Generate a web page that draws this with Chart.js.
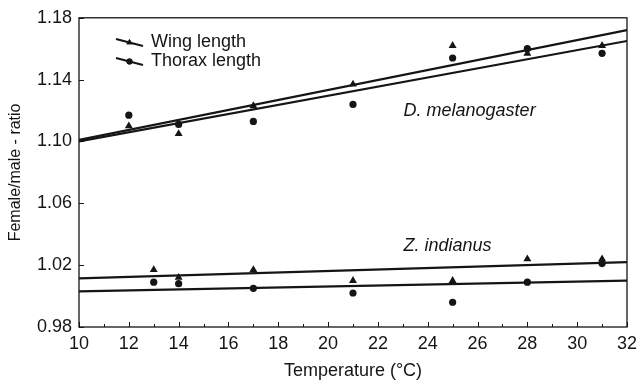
<!DOCTYPE html>
<html>
<head>
<meta charset="utf-8">
<script src="https://cdn.jsdelivr.net/npm/chart.js@4"></script>
<style>
  html, body { margin: 0; padding: 0; background: #fff; }
  #wrap { width: 643px; height: 385px; }
</style>
</head>
<body>
<div id="wrap"><canvas id="ratioChart" width="643" height="385"></canvas></div>
<script>
// temperatures (°C)
const dmTemps = [12, 14, 17, 21, 25, 28, 31];
const ziTemps = [13, 14, 17, 21, 25, 28, 31];

// female/male ratios
const dmWing = [1.110, 1.105, 1.123, 1.137, 1.162, 1.157, 1.162];
const dmThorax = [1.117, 1.111, 1.113, 1.124, 1.154, 1.160, 1.157];
const ziWing = [1.017, 1.012, 1.017, 1.010, 1.010, 1.024, 1.024];
const ziThorax = [1.009, 1.008, 1.005, 1.002, 0.996, 1.009, 1.021];

// fitted lines, end points
const fitTemps = [10, 32];
const dmWingFit = [1.101, 1.172];
const dmThoraxFit = [1.100, 1.165];
const ziWingFit = [1.0115, 1.022];
const ziThoraxFit = [1.003, 1.010];

const xTicks = [10, 12, 14, 16, 18, 20, 22, 24, 26, 28, 30, 32];
const yTicks = [0.98, 1.02, 1.06, 1.10, 1.14, 1.18];

const INK = '#151515';
const FONT = '"Liberation Sans", Arial, Helvetica, sans-serif';

function pts(xs, ys) {
    return xs.map((x, i) => ({ x: x, y: ys[i] }));
}

function markerSet(xs, ys, style) {
    return {
        data: pts(xs, ys),
        showLine: false,
        pointStyle: style,
        pointRadius: style === 'triangle' ? 4.6 : 3.6,
        backgroundColor: INK,
        borderColor: INK,
        borderWidth: 0
    };
}

function fitSet(ys) {
    return {
        data: pts(fitTemps, ys),
        showLine: true,
        pointRadius: 0,
        borderColor: INK,
        borderWidth: 2.2,
        fill: false
    };
}

// frame, inward ticks, legend and species labels
const framePlugin = {
    id: 'frame',
    afterDraw(chart) {
        const { ctx, chartArea: a, scales: { x, y } } = chart;
        ctx.save();
        ctx.strokeStyle = INK;
        ctx.lineWidth = 1.3;
        ctx.strokeRect(a.left, a.top, a.right - a.left, a.bottom - a.top);

        ctx.lineWidth = 1;
        ctx.beginPath();
        for (let t = 10; t <= 32; t++) {
            const px = Math.round(x.getPixelForValue(t)) + 0.5;
            const len = t % 2 === 0 ? 5 : 3;
            ctx.moveTo(px, a.bottom);
            ctx.lineTo(px, a.bottom - len);
        }
        yTicks.forEach(v => {
            const py = Math.round(y.getPixelForValue(v)) + 0.5;
            ctx.moveTo(a.left, py);
            ctx.lineTo(a.left + 5, py);
        });
        ctx.stroke();

        // legend
        const rows = [
            { label: 'Wing length', style: 'triangle', r: 3.6, y0: 39 },
            { label: 'Thorax length', style: 'circle', r: 3, y0: 58 }
        ];
        ctx.font = '18px ' + FONT;
        ctx.textBaseline = 'middle';
        ctx.fillStyle = INK;
        rows.forEach(row => {
            ctx.lineWidth = 2;
            ctx.beginPath();
            ctx.moveTo(116, row.y0);
            ctx.lineTo(143, row.y0 + 7);
            ctx.stroke();
            Chart.helpers.drawPoint(ctx, { pointStyle: row.style, radius: row.r, rotation: 0, borderWidth: 0 }, 129.5, row.y0 + 3.5);
            ctx.fill();
            ctx.fillText(row.label, 151, row.y0 + 3);
        });

        // species labels
        ctx.font = 'italic 18px ' + FONT;
        ctx.textAlign = 'left';
        [
            { text: 'D. melanogaster', t: 23.03, v: 1.1194 },
            { text: 'Z. indianus', t: 23.03, v: 1.0324 }
        ].forEach(s => {
            ctx.fillText(s.text, x.getPixelForValue(s.t), y.getPixelForValue(s.v));
        });
        ctx.restore();
    }
};

new Chart(document.getElementById('ratioChart').getContext('2d'), {
    type: 'scatter',
    data: {
        datasets: [
            fitSet(dmWingFit),
            fitSet(dmThoraxFit),
            fitSet(ziWingFit),
            fitSet(ziThoraxFit),
            markerSet(dmTemps, dmWing, 'triangle'),
            markerSet(dmTemps, dmThorax, 'circle'),
            markerSet(ziTemps, ziWing, 'triangle'),
            markerSet(ziTemps, ziThorax, 'circle')
        ]
    },
    options: {
        responsive: false,
        animation: false,
        layout: { padding: { top: 17, right: 8, left: 0, bottom: 0 } },
        scales: {
            x: {
                type: 'linear',
                min: 10,
                max: 32,
                afterBuildTicks: s => { s.ticks = xTicks.map(v => ({ value: v })); },
                afterFit: s => { s.height = 58; },
                grid: { display: false, drawTicks: false },
                border: { display: false },
                ticks: {
                    padding: 6,
                    color: INK,
                    font: { family: FONT, size: 18 },
                    callback: v => String(v)
                },
                title: {
                    display: true,
                    text: 'Temperature (°C)',
                    color: INK,
                    font: { family: FONT, size: 18 },
                    padding: { top: 0, bottom: 3 }
                }
            },
            y: {
                type: 'linear',
                min: 0.98,
                max: 1.18,
                afterBuildTicks: s => { s.ticks = yTicks.map(v => ({ value: v })); },
                afterFit: s => { s.width = 79; },
                grid: { display: false, drawTicks: false },
                border: { display: false },
                ticks: {
                    padding: 7,
                    color: INK,
                    font: { family: FONT, size: 18 },
                    callback: v => Number(v).toFixed(2)
                },
                title: {
                    display: true,
                    text: 'Female/male - ratio',
                    color: INK,
                    font: { family: FONT, size: 16 },
                    padding: { top: 6, bottom: 0 }
                }
            }
        },
        plugins: {
            legend: { display: false },
            tooltip: { enabled: false }
        }
    },
    plugins: [framePlugin]
});
</script>
</body>
</html>
